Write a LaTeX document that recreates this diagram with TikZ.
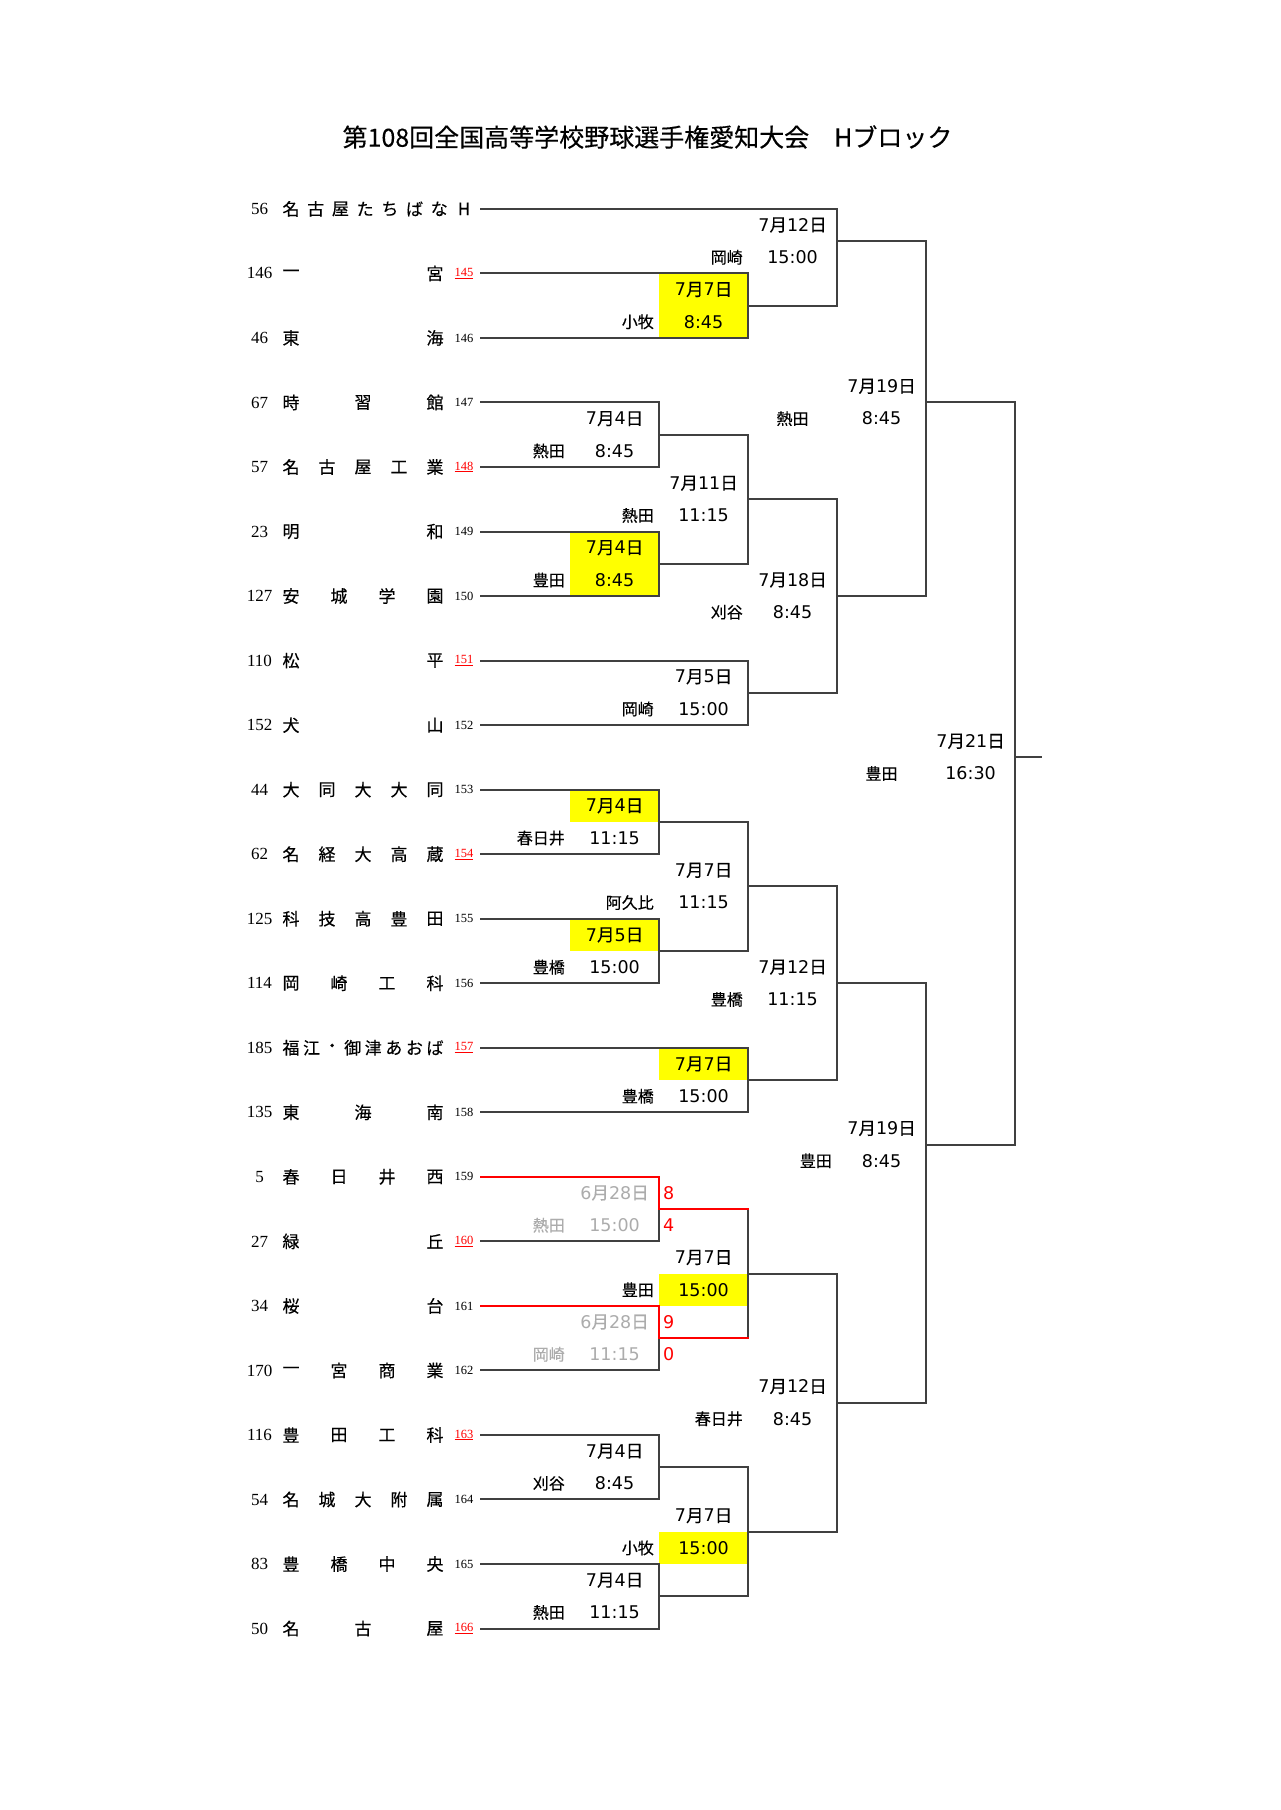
\documentclass[tikz,border=0pt]{standalone}
\usepackage{fontspec}
\setmainfont{Liberation Serif}
\newfontfamily\jp[FakeBold=0.3]{Noto Sans CJK JP}
\newfontfamily\dv{DejaVu Sans}
\definecolor{ln}{gray}{0.25}
\definecolor{ylw}{RGB}{255,255,0}
\definecolor{rd}{RGB}{255,0,0}
\definecolor{gr}{RGB}{172,172,172}
\newcommand\md[2]{{\dv #1}{\jp 月}{\dv #2}{\jp 日}}
\newcommand\rn[1]{\textcolor{rd}{\underline{#1}}}
% #1 name, #2 bracket column, #3 text half-row, #4 date, #5 venue, #6 time
\newcommand\game[6]{%
  \node[dst] (#1d) at ({cx(#2)-44.43},{ty(#3+0.5)}) {#4};
  \node[dst] (#1t) at ({cx(#2)-44.43},{ty(#3+1.5)}) {\dv #6};
  \node[vst,anchor=east] (#1v) at ({cx(#2-1)-5},{ty(#3+1.5)}) {#5};
}
% #1 row, #2 seed, #3 n chars, #4 chars, #5 small number, #6 last x
\newcommand\school[6]{%
  \node[seedst] (seed#1) at (259.5,{ty(2*#1)}) {#2};
  \foreach \ch [count=\q from 0] in {#4}
    \node[namest] (nm#1-\q) at ({291+(#6-291)*\q/(#3-1)},{ty(2*#1)}) {\ch};
  \node[smst] (sm#1) at (464,{ty(2*#1)}) {#5};
}
\newcommand\brk[4]{%
  \draw[br] ({cx(#1)},{ky(#2)}) -- ({cx(#1)},{ky(#3)});
  \draw[br] ({cx(#1)},{ky(#4)}) -- ({cx(#1+1)},{ky(#4)});
}
\begin{document}
\begin{tikzpicture}[x=1pt,y=-1pt,
  declare function={cx(\j)=round(481.3+88.87*\j); ky(\k)=round(208.9+32.265*\k); ty(\k)=208.9+32.265*\k;},
  br/.style={draw=ln, line width=2pt, line cap=rect},
  rl/.style={draw=rd, line width=2pt, line cap=rect, line join=miter},
  yb/.style={fill=ylw, draw=none},
  dst/.style={inner sep=0pt, font=\fontsize{17.5}{20}\selectfont},
  vst/.style={inner sep=0pt, font=\jp\fontsize{16}{18}\selectfont},
  seedst/.style={inner sep=0pt, font=\fontsize{17}{19}\selectfont},
  namest/.style={inner sep=0pt, font=\jp\fontsize{17}{19}\selectfont},
  smst/.style={inner sep=0pt, font=\fontsize{12.5}{14}\selectfont},
  scst/.style={inner sep=0pt, anchor=west, text=rd, font=\dv\fontsize{17.5}{20}\selectfont},
]
\useasboundingbox[fill=white] (0,0) rectangle (1280,1810);

% title
\node[inner sep=0pt, font=\jp\fontsize{25}{28}\selectfont] (title) at (647.5,137)
  {第108回全国高等学校野球選手権愛知大会　Hブロック};

% yellow cells
\fill[yb] ({cx(2)},{ky(2)}) rectangle ({cx(3)},{ky(4)});
\fill[yb] ({cx(1)},{ky(10)}) rectangle ({cx(2)},{ky(12)});
\fill[yb] ({cx(1)},{ky(18)}) rectangle ({cx(2)},{ky(19)});
\fill[yb] ({cx(1)},{ky(22)}) rectangle ({cx(2)},{ky(23)});
\fill[yb] ({cx(2)},{ky(26)}) rectangle ({cx(3)},{ky(27)});
\fill[yb] ({cx(2)},{ky(33)}) rectangle ({cx(3)},{ky(34)});
\fill[yb] ({cx(2)},{ky(41)}) rectangle ({cx(3)},{ky(42)});

% row lines
\foreach \r/\c in {0/4,1/3,2/3,3/2,4/2,5/2,6/2,7/3,8/3,9/2,10/2,11/2,12/2,13/3,14/3,16/2,18/2,19/2,20/2,21/2,22/2}
  \draw[br] ({cx(0)},{ky(2*\r)}) -- ({cx(\c)},{ky(2*\r)});

% brackets
\brk{3}{2}{4}{3}
\brk{4}{0}{3}{1}
\brk{2}{6}{8}{7}
\brk{2}{10}{12}{11}
\brk{3}{7}{11}{9}
\brk{3}{14}{16}{15}
\brk{4}{9}{15}{12}
\brk{5}{1}{12}{6}
\brk{2}{18}{20}{19}
\brk{2}{22}{24}{23}
\brk{3}{19}{23}{21}
\brk{3}{26}{28}{27}
\brk{4}{21}{27}{24}
\draw[br] ({cx(2)},{ky(31)}) -- ({cx(2)},{ky(32)});
\draw[br] ({cx(2)},{ky(35)}) -- ({cx(2)},{ky(36)});
\brk{3}{31}{35}{33}
\brk{2}{38}{40}{39}
\brk{2}{42}{44}{43}
\brk{3}{39}{43}{41}
\brk{4}{33}{41}{37}
\brk{5}{24}{37}{29}
\draw[br] ({cx(6)},{ky(6)}) -- ({cx(6)},{ky(29)});
\coordinate (tickend) at (1041,{ky(17)});
\draw[br] ({cx(6)},{ky(17)}) -- (tickend);

% red winner paths
\draw[rl] ({cx(0)},{ky(30)}) -- ({cx(2)},{ky(30)}) -- ({cx(2)},{ky(31)}) -- ({cx(3)},{ky(31)});
\draw[rl] ({cx(0)},{ky(34)}) -- ({cx(2)},{ky(34)}) -- ({cx(2)},{ky(35)}) -- ({cx(3)},{ky(35)});

% schools
\node[seedst] (seed0) at (259.5,{ty(0)}) {56};
\foreach \ch [count=\q from 0] in {名,古,屋,た,ち,ば,な,H}
  \node[namest] (nm0-\q) at ({291+173*\q/7},{ty(0)}) {\ch};
\school{1}{146}{2}{一,宮}{\rn{145}}{435}
\school{2}{46}{2}{東,海}{146}{435}
\school{3}{67}{3}{時,習,館}{147}{435}
\school{4}{57}{5}{名,古,屋,工,業}{\rn{148}}{435}
\school{5}{23}{2}{明,和}{149}{435}
\school{6}{127}{4}{安,城,学,園}{150}{435}
\school{7}{110}{2}{松,平}{\rn{151}}{435}
\school{8}{152}{2}{犬,山}{152}{435}
\school{9}{44}{5}{大,同,大,大,同}{153}{435}
\school{10}{62}{5}{名,経,大,高,蔵}{\rn{154}}{435}
\school{11}{125}{5}{科,技,高,豊,田}{155}{435}
\school{12}{114}{4}{岡,崎,工,科}{156}{435}
\school{13}{185}{8}{福,江,・,御,津,あ,お,ば}{\rn{157}}{435}
\school{14}{135}{3}{東,海,南}{158}{435}
\school{15}{5}{4}{春,日,井,西}{159}{435}
\school{16}{27}{2}{緑,丘}{\rn{160}}{435}
\school{17}{34}{2}{桜,台}{161}{435}
\school{18}{170}{4}{一,宮,商,業}{162}{435}
\school{19}{116}{4}{豊,田,工,科}{\rn{163}}{435}
\school{20}{54}{5}{名,城,大,附,属}{164}{435}
\school{21}{83}{4}{豊,橋,中,央}{165}{435}
\school{22}{50}{3}{名,古,屋}{\rn{166}}{435}

% game labels
\game{g1}{4}{0}{\md{7}{12}}{岡崎}{15:00}
\game{g2}{3}{2}{\md77}{小牧}{8:45}
\game{g3}{2}{6}{\md74}{熱田}{8:45}
\game{g4}{3}{8}{\md{7}{11}}{熱田}{11:15}
\game{g5}{2}{10}{\md74}{豊田}{8:45}
\game{g6}{4}{11}{\md{7}{18}}{刈谷}{8:45}
\game{g7}{3}{14}{\md75}{岡崎}{15:00}
\node[dst] (g8d) at ({cx(5)-44.43},{ty(5.5)}) {\md{7}{19}};
\node[dst] (g8t) at ({cx(5)-44.43},{ty(6.5)}) {\dv 8:45};
\node[vst] (g8v) at ({(cx(3)+cx(4))/2},{ty(6.5)}) {熱田};
\node[dst] (g9d) at ({cx(6)-44.43},{ty(16.5)}) {\md{7}{21}};
\node[dst] (g9t) at ({cx(6)-44.43},{ty(17.5)}) {\dv 16:30};
\node[vst] (g9v) at ({(cx(4)+cx(5))/2},{ty(17.5)}) {豊田};
\game{g10}{2}{18}{\md74}{春日井}{11:15}
\game{g11}{3}{20}{\md77}{阿久比}{11:15}
\game{g12}{2}{22}{\md75}{豊橋}{15:00}
\game{g13}{4}{23}{\md{7}{12}}{豊橋}{11:15}
\game{g14}{3}{26}{\md77}{豊橋}{15:00}
\game{g15}{5}{28}{\md{7}{19}}{豊田}{8:45}
\game{g16}{2}{30}{\color{gr}\md{6}{28}}{\color{gr}熱田}{\color{gr}15:00}
\game{g17}{3}{32}{\md77}{豊田}{15:00}
\game{g18}{2}{34}{\color{gr}\md{6}{28}}{\color{gr}岡崎}{\color{gr}11:15}
\game{g19}{4}{36}{\md{7}{12}}{春日井}{8:45}
\game{g20}{2}{38}{\md74}{刈谷}{8:45}
\game{g21}{3}{40}{\md77}{小牧}{15:00}
\game{g22}{2}{42}{\md74}{熱田}{11:15}

% scores
\node[scst] (sc1) at ({cx(2)+4},{ty(30.5)}) {8};
\node[scst] (sc2) at ({cx(2)+4},{ty(31.5)}) {4};
\node[scst] (sc3) at ({cx(2)+4},{ty(34.5)}) {9};
\node[scst] (sc4) at ({cx(2)+4},{ty(35.5)}) {0};
\end{tikzpicture}
\end{document}
